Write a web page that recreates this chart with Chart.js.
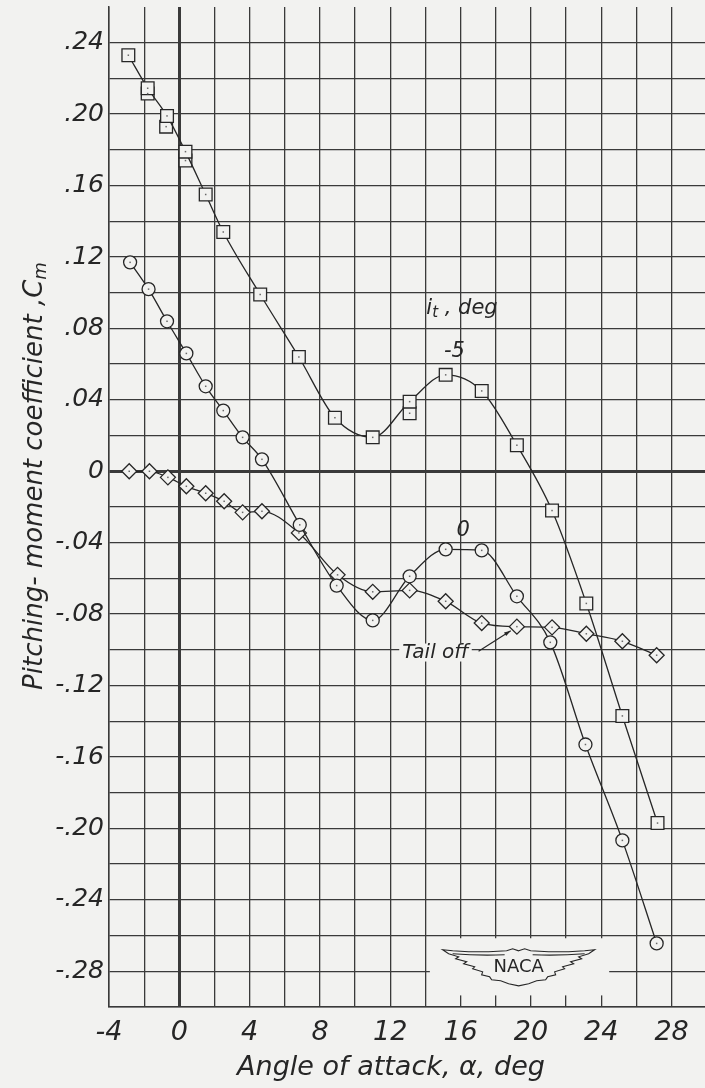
<!DOCTYPE html>
<html>
<head>
<meta charset="utf-8">
<script src="https://cdn.jsdelivr.net/npm/chart.js@4.4.1/dist/chart.umd.min.js"></script>
<style>
  html, body { margin: 0; padding: 0; background: #f2f2f0; overflow: hidden; }
  #wrap { position: relative; width: 705px; height: 1088px; }
  #wrap canvas { display: block; }
</style>
</head>
<body>
<div id="wrap"><canvas id="c"></canvas></div>
<script>
// Pitching-moment coefficient Cm against angle of attack (deg)

// Horizontal-tail incidence i_t = -5 deg (faired run)
const alphaM5 = [-2.9, -1.8, -0.7, 0.35, 1.5, 2.5, 4.6, 6.8, 8.85, 11.0, 13.1, 15.15, 17.2, 19.2, 21.2, 23.15, 25.2, 27.2];
const cmM5    = [0.233, 0.2145, 0.199, 0.179, 0.155, 0.134, 0.099, 0.064, 0.030, 0.019, 0.039, 0.054, 0.045, 0.0146, -0.022, -0.074, -0.137, -0.197];

// Repeat points at i_t = -5 deg
const alphaM5Repeat = [-1.8, -0.75, 0.35, 13.1];
const cmM5Repeat    = [0.2115, 0.193, 0.174, 0.0325];

// Horizontal-tail incidence i_t = 0 deg
const alpha0 = [-2.8, -1.75, -0.7, 0.4, 1.5, 2.5, 3.6, 4.7, 6.85, 8.95, 11.0, 13.1, 15.15, 17.2, 19.2, 21.1, 23.1, 25.2, 27.15];
const cm0    = [0.117, 0.102, 0.084, 0.066, 0.0476, 0.034, 0.019, 0.0067, -0.030, -0.064, -0.0835, -0.0588, -0.0437, -0.0443, -0.070, -0.0958, -0.153, -0.2067, -0.2644];

// Tail off
const alphaTailOff = [-2.85, -1.7, -0.65, 0.4, 1.5, 2.55, 3.6, 4.7, 6.8, 9.0, 11.0, 13.1, 15.15, 17.2, 19.2, 21.2, 23.15, 25.2, 27.15];
const cmTailOff    = [0.0, 0.0, -0.0034, -0.0084, -0.0123, -0.0168, -0.023, -0.0224, -0.0345, -0.058, -0.0675, -0.0667, -0.0728, -0.085, -0.087, -0.0874, -0.091, -0.0952, -0.103];

// Labelled ticks
const xTickValues = [-4, 0, 4, 8, 12, 16, 20, 24, 28];
const yTickValues = [0.24, 0.20, 0.16, 0.12, 0.08, 0.04, 0, -0.04, -0.08, -0.12, -0.16, -0.20, -0.24, -0.28];

const BG = '#f2f2f0';
const INK = '#262626';
const GRID = '#3a3a3a';
const FAMILY = '"DejaVu Sans", "Liberation Sans", sans-serif';

function pts(xs, ys) { return xs.map((x, i) => ({ x: x, y: ys[i] })); }

function toPx(chart, a, cm) {
  return [chart.scales.x.getPixelForValue(a), chart.scales.y.getPixelForValue(cm)];
}

// Winged emblem outline, right half (mirrored for the left half)
const wingHalf = [[0,-16],[6,-18],[12,-16],[30,-15],[50,-15],[66,-16],[76,-17],
  [70,-13],[60,-10],[63,-8],[52,-5],[55,-3],[44,0],[46,2],[36,5],[37,8],[29,10],
  [27,13],[18,14],[10,17],[0,19]];

const decor = {
  id: 'decor',
  beforeDatasetsDraw(chart) {
    const ctx = chart.ctx;
    ctx.save();
    ctx.fillStyle = BG;
    // clear panel behind the emblem
    const [x1, y1] = toPx(chart, 14.25, -0.2615);
    const [x2, y2] = toPx(chart, 24.45, -0.2935);
    ctx.fillRect(x1, y1, x2 - x1, y2 - y1);
    // clear strip behind the "Tail off" note
    ctx.font = 'italic 20px ' + FAMILY;
    const [tx, ty] = toPx(chart, 14.57, -0.1015);
    const w = ctx.measureText('Tail off').width;
    ctx.fillRect(tx - w / 2 - 3, ty - 9, w + 6, 18);
    ctx.restore();
  },
  afterDatasetsDraw(chart) {
    const ctx = chart.ctx;
    ctx.save();
    ctx.fillStyle = '#6a6a6a';
    chart.data.datasets.forEach((ds, i) => {
      chart.getDatasetMeta(i).data.forEach(el => {
        ctx.fillRect(el.x - 0.75, el.y - 0.75, 1.5, 1.5);
      });
    });
    ctx.restore();
  },
  afterDraw(chart) {
    const ctx = chart.ctx;
    ctx.save();
    ctx.fillStyle = INK;
    ctx.strokeStyle = INK;

    // series notes
    ctx.font = 'italic 21px ' + FAMILY;
    ctx.textAlign = 'center';
    ctx.textBaseline = 'middle';
    let p = toPx(chart, 15.65, 0.0672);
    ctx.fillText('-5', p[0], p[1]);
    p = toPx(chart, 16.15, -0.033);
    ctx.fillText('0', p[0], p[1]);
    ctx.font = 'italic 20px ' + FAMILY;
    p = toPx(chart, 14.57, -0.1015);
    ctx.fillText('Tail off', p[0], p[1]);

    // i_t , deg
    ctx.textAlign = 'left';
    ctx.textBaseline = 'alphabetic';
    p = toPx(chart, 14.05, 0.088);
    ctx.font = 'italic 21px ' + FAMILY;
    ctx.fillText('i', p[0], p[1]);
    let x = p[0] + ctx.measureText('i').width;
    ctx.font = 'italic 15px ' + FAMILY;
    ctx.fillText('t', x, p[1] + 3);
    x += ctx.measureText('t').width;
    ctx.font = 'italic 21px ' + FAMILY;
    ctx.fillText(' , deg', x, p[1]);

    // leader from the "Tail off" note
    const a = toPx(chart, 17.02, -0.1008);
    const b = toPx(chart, 18.85, -0.0893);
    ctx.lineWidth = 1.2;
    ctx.beginPath();
    ctx.moveTo(a[0], a[1]);
    ctx.lineTo(b[0], b[1]);
    ctx.stroke();
    const ang = Math.atan2(b[1] - a[1], b[0] - a[0]);
    ctx.beginPath();
    ctx.moveTo(b[0], b[1]);
    ctx.lineTo(b[0] - 7 * Math.cos(ang - 0.3), b[1] - 7 * Math.sin(ang - 0.3));
    ctx.lineTo(b[0] - 7 * Math.cos(ang + 0.3), b[1] - 7 * Math.sin(ang + 0.3));
    ctx.closePath();
    ctx.fill();

    // emblem
    const c = toPx(chart, 19.3, -0.2775);
    ctx.lineWidth = 1.1;
    ctx.beginPath();
    wingHalf.forEach((q, i) => {
      if (i === 0) ctx.moveTo(c[0] + q[0], c[1] + q[1]);
      else ctx.lineTo(c[0] + q[0], c[1] + q[1]);
    });
    for (let i = wingHalf.length - 1; i >= 0; i--) {
      ctx.lineTo(c[0] - wingHalf[i][0], c[1] + wingHalf[i][1]);
    }
    ctx.closePath();
    ctx.stroke();
    ctx.beginPath();
    ctx.moveTo(c[0] - 66, c[1] - 13);
    ctx.quadraticCurveTo(c[0] - 40, c[1] - 11, c[0] - 14, c[1] - 12);
    ctx.moveTo(c[0] + 66, c[1] - 13);
    ctx.quadraticCurveTo(c[0] + 40, c[1] - 11, c[0] + 14, c[1] - 12);
    ctx.stroke();
    ctx.font = '18px ' + FAMILY;
    ctx.textAlign = 'center';
    ctx.textBaseline = 'middle';
    ctx.fillText('NACA', c[0], c[1] + 1);

    // axis titles
    ctx.font = 'italic 27px ' + FAMILY;
    ctx.textAlign = 'center';
    ctx.textBaseline = 'alphabetic';
    ctx.fillText('Angle of attack, \u03b1, deg', 391, 1075);

    ctx.translate(42, 476);
    ctx.rotate(-Math.PI / 2);
    const main = 'Pitching- moment coefficient ,C';
    ctx.font = 'italic 26px ' + FAMILY;
    const wMain = ctx.measureText(main).width;
    ctx.font = 'italic 18px ' + FAMILY;
    const wSub = ctx.measureText('m').width;
    const start = -(wMain + wSub) / 2;
    ctx.textAlign = 'left';
    ctx.font = 'italic 26px ' + FAMILY;
    ctx.fillText(main, start, 0);
    ctx.font = 'italic 18px ' + FAMILY;
    ctx.fillText('m', start + wMain, 4);
    ctx.restore();
  }
};

function markerSet(data, style, radius, showLine) {
  return {
    data: data,
    showLine: showLine,
    borderColor: INK,
    borderWidth: 1.3,
    cubicInterpolationMode: 'monotone',
    pointStyle: style,
    pointRadius: radius,
    pointBorderWidth: 1.3,
    pointBorderColor: INK,
    pointBackgroundColor: BG
  };
}

const near = (v, list) => list.some(t => Math.abs(v - t) < 1e-6);

new Chart(document.getElementById('c'), {
  type: 'scatter',
  data: {
    datasets: [
      markerSet(pts(alphaM5, cmM5), 'rect', 9, true),
      markerSet(pts(alphaM5Repeat, cmM5Repeat), 'rect', 9, false),
      markerSet(pts(alpha0, cm0), 'circle', 6.5, true),
      markerSet(pts(alphaTailOff, cmTailOff), 'rectRot', 7.5, true)
    ]
  },
  options: {
    responsive: true,
    maintainAspectRatio: false,
    animation: false,
    events: [],
    layout: { autoPadding: false, padding: { top: 7, left: 0, right: 0, bottom: 0 } },
    plugins: { legend: { display: false }, tooltip: { enabled: false } },
    scales: {
      x: {
        type: 'linear',
        bounds: 'data',
        min: -4,
        max: 29.9,
        // grid runs on past the last labelled value without a closing line
        afterBuildTicks(s) { s.ticks = s.ticks.filter(t => t.value <= 28.5); },
        afterFit(s) { s.height = 81; s.paddingLeft = 0; s.paddingRight = 0; },
        ticks: {
          stepSize: 2,
          includeBounds: false,
          autoSkip: false,
          maxRotation: 0,
          padding: 10,
          color: INK,
          font: { family: FAMILY, size: 27, style: 'italic' },
          callback: v => near(v, xTickValues) ? String(Math.round(v)) : ''
        },
        grid: {
          drawTicks: false,
          color: GRID,
          lineWidth: c => Math.abs(c.tick.value) < 1e-6 ? 3 : 1.3
        },
        border: { color: GRID, width: 1.5 }
      },
      y: {
        type: 'linear',
        bounds: 'data',
        min: -0.30,
        max: 0.26,
        afterFit(s) { s.width = 109; s.paddingTop = 0; s.paddingBottom = 0; },
        ticks: {
          stepSize: 0.02,
          includeBounds: false,
          autoSkip: false,
          padding: 5,
          color: INK,
          font: { family: FAMILY, size: 25, style: 'italic' },
          callback: v => {
            if (!near(v, yTickValues)) return '';
            const n = Math.round(v * 100);
            if (n === 0) return '0';
            return (n < 0 ? '-' : '') + '.' + String(Math.abs(n)).padStart(2, '0');
          }
        },
        grid: {
          drawTicks: false,
          color: c => c.tick.value > 0.255 ? 'rgba(0,0,0,0)' : GRID,
          lineWidth: c => Math.abs(c.tick.value) < 1e-6 ? 3 : 1.3
        },
        border: { color: GRID, width: 1.5 }
      }
    }
  },
  plugins: [decor]
});
</script>
</body>
</html>
